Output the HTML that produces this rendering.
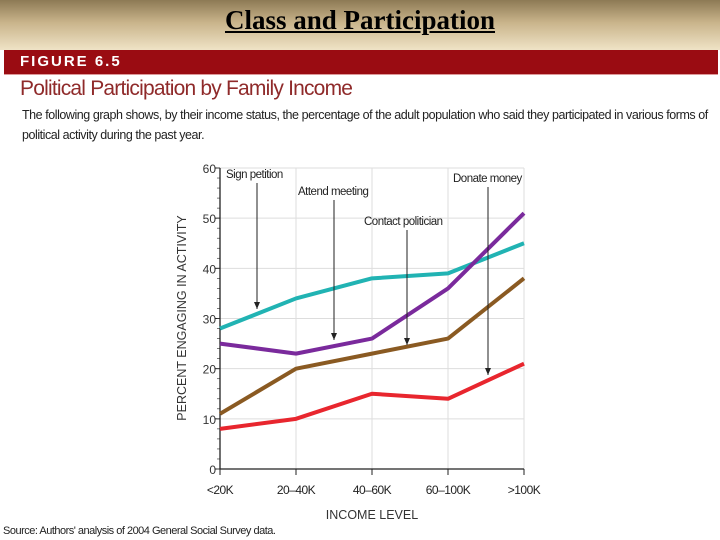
<!DOCTYPE html>
<html><head><meta charset="utf-8"><style>
body{margin:0;width:720px;height:540px;overflow:hidden;background:#fff;font-family:"Liberation Sans",sans-serif;position:relative}
#top{position:absolute;left:0;top:0;width:720px;height:50px;background:linear-gradient(#8d7a55,#c9b48b 45%,#efe3c6)}
#title{position:absolute;left:0;top:5px;width:720px;text-align:center;font:bold 27px "Liberation Serif",serif;text-decoration:underline;color:#000}
#band{position:absolute;left:4px;top:50px;width:714px;height:24px;background:#9a0c12;border-bottom:1px solid #d99}
#band span{position:absolute;left:16px;top:3px;color:#fff;font-weight:bold;font-size:15px;letter-spacing:2px}
#sub{position:absolute;left:20px;top:77px;font-size:21px;color:#8f2a2a;letter-spacing:-0.8px}
#desc{position:absolute;left:22px;top:105px;width:720px;white-space:nowrap;font-size:12.5px;line-height:20px;color:#222;letter-spacing:-0.45px}
#src{position:absolute;left:3px;top:525px;font-size:11px;color:#222;letter-spacing:-0.5px}
</style></head><body>
<div id="top"></div>
<div id="title">Class and Participation</div>
<div id="band"><span>FIGURE 6.5</span></div>
<div id="sub">Political Participation by Family Income</div>
<div id="desc">The following graph shows, by their income status, the percentage of the adult population who said they participated in various forms of<br>political activity during the past year.</div>
<svg id="chart" width="720" height="540" style="position:absolute;left:0;top:0"></svg>
<div id="src">Source: Authors' analysis of 2004 General Social Survey data.</div>
<script>
const categories=["<20K","20–40K","40–60K","60–100K",">100K"];
const yTicks=[0,10,20,30,40,50,60];
const signPetition=[28,34,38,39,45];
const donateMoney=[25,23,26,36,51];
const attendMeeting=[11,20,23,26,38];
const contactPolitician=[8,10,15,14,21];
const seriesNames=["sign-petition","donate-money","attend-meeting","contact-politician"];
const seriesData=[signPetition,donateMoney,attendMeeting,contactPolitician];
const seriesColors=["#21b3b3","#7a2a9c","#8a5a22","#e8262e"];
const NS="http://www.w3.org/2000/svg";
const svg=document.getElementById('chart');
const x0=220,x1=524,y0=469,y1=168;
const xs=i=>x0+(x1-x0)*i/(categories.length-1);
const ys=v=>y0-(y0-y1)*v/60;
function mk(t,a){const e=document.createElementNS(NS,t);for(const k in a)e.setAttribute(k,a[k]);svg.appendChild(e);return e;}
yTicks.forEach(v=>{
 if(v>0){const g=mk('line',{x1:x0,x2:x1,y1:ys(v),y2:ys(v),stroke:'#ddd','stroke-width':1});
 
 }
 const t=mk('text',{x:x0-4,y:ys(v)+5,'text-anchor':'end','font-size':12,fill:'#333','font-family':'Liberation Sans, sans-serif'});t.textContent=v;
 
 
 mk('line',{x1:x0-5,x2:x0,y1:ys(v),y2:ys(v),stroke:'#222'});
});
for(let v=0;v<=60;v+=2){mk('line',{x1:x0-3,x2:x0,y1:ys(v),y2:ys(v),stroke:'#444','stroke-width':0.7});}
categories.forEach((c,i)=>{
 if(i>0){const g=mk('line',{x1:xs(i),x2:xs(i),y1:y1,y2:y0,stroke:'#ddd'});
 
 }
 mk('line',{x1:xs(i),x2:xs(i),y1:y0,y2:y0+6,stroke:'#222'});
 const t=mk('text',{x:xs(i),y:494,'text-anchor':'middle','font-size':12,fill:'#222','font-family':'Liberation Sans, sans-serif','letter-spacing':'-0.5'});t.textContent=c;
 
 
});
const ax=mk('path',{d:`M${x0} ${y1}V${y0}H${x1}`,stroke:'#222',fill:'none','stroke-width':1.3});


seriesData.forEach((d,s)=>{
 const p=mk('polyline',{points:d.map((v,i)=>xs(i)+','+ys(v)).join(' '),fill:'none',stroke:seriesColors[s],'stroke-width':4,'stroke-linejoin':'round'});
 
 
});
const ann=[["Sign petition",226,178,257,183,309],["Attend meeting",298,195,334,200,340],["Contact politician",364,225,407,230,345],["Donate money",453,182,488,187,375]];
ann.forEach(a=>{
 const t=mk('text',{x:a[1],y:a[2],'font-size':11.5,fill:'#222','font-family':'Liberation Sans, sans-serif','letter-spacing':'-0.5'});t.textContent=a[0];
 
 
 mk('line',{x1:a[3],x2:a[3],y1:a[4],y2:a[5],stroke:'#222'});
 mk('path',{d:`M${a[3]-3} ${a[5]-7}L${a[3]} ${a[5]}L${a[3]+3} ${a[5]-7}Z`,fill:'#222'});
});
const yt=mk('text',{x:186,y:318,transform:'rotate(-90 186 318)','text-anchor':'middle','font-size':12.5,fill:'#333','font-family':'Liberation Sans, sans-serif'});yt.textContent="PERCENT ENGAGING IN ACTIVITY";


const xt=mk('text',{x:372,y:519,'text-anchor':'middle','font-size':12.5,fill:'#333','font-family':'Liberation Sans, sans-serif'});xt.textContent="INCOME LEVEL";


</script>
</body></html>
